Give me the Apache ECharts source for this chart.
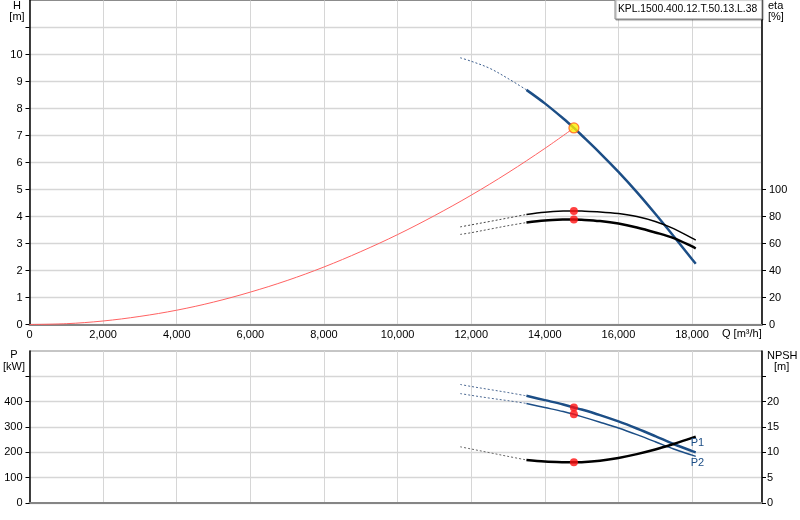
<!DOCTYPE html>
<html>
<head>
<meta charset="utf-8">
<script src="https://cdn.jsdelivr.net/npm/echarts@6/dist/echarts.min.js"></script>
<style>html,body{margin:0;padding:0;background:#fff}#c{width:800px;height:520px}</style>
</head>
<body>
<div id="c"></div>
<script>
// ---- data ----
const qDash  = [11700, 12000, 12500, 13000, 13500];
const qSolid = [13500, 14000, 14500, 14790, 15000, 15500, 16000, 16500, 17000, 17500, 18000, 18100];

const hDash  = [9.88, 9.75, 9.49, 9.11, 8.69];
const hSolid = [8.69, 8.19, 7.63, 7.28, 7.01, 6.35, 5.65, 4.90, 4.10, 3.27, 2.42, 2.25];

const etaUpDash  = [72.3, 73.8, 76.3, 78.9, 81.5];
const etaUpSolid = [81.5, 83.2, 84.0, 84.1, 84.0, 83.4, 82.2, 80.0, 76.3, 71.0, 64.0, 62.5];
const etaLoDash  = [66.7, 68.0, 70.6, 73.2, 75.5];
const etaLoSolid = [75.5, 77.0, 77.7, 77.8, 77.6, 76.6, 74.8, 71.9, 68.2, 64.0, 57.8, 56.3];

const p1Dash  = [468, 460, 448, 436, 423];
const p1Solid = [423, 406, 389, 377, 369, 347, 322, 294, 264, 233, 205, 200];
const p2Dash  = [432, 425, 414, 404, 393];
const p2Solid = [393, 377, 361, 350, 341, 319, 296, 270, 242, 213, 189, 184];

const npshDash  = [11.1, 10.66, 9.93, 9.2, 8.5];
const npshSolid = [8.5, 8.2, 8.05, 8.02, 8.05, 8.35, 8.9, 9.65, 10.55, 11.65, 12.85, 13.1];

const qSys = [0, 1000, 2000, 3000, 4000, 5000, 6000, 7000, 8000, 9000, 10000, 11000, 12000, 13000, 14000, 14790];
const hSys = [0, 0.03, 0.13, 0.3, 0.53, 0.83, 1.2, 1.63, 2.13, 2.7, 3.33, 4.03, 4.79, 5.62, 6.52, 7.28];

const dutyQ = 14790;
const dutyH = 7.28, dutyEtaUp = 84.1, dutyEtaLo = 77.8, dutyP1 = 377, dutyP2 = 350, dutyNpsh = 8.02;

const hTicks = [0,1,2,3,4,5,6,7,8,9,10,11];
const hLabels = [0,1,2,3,4,5,6,7,8,9,10];
const etaTicks = [0,20,40,60,80,100];
const pTicks = [0,100,200,300,400,500];
const pLabels = [0,100,200,300,400];
const npshTicks = [0,5,10,15,20,25];
const npshLabels = [0,5,10,15,20];

const pumpName = 'KPL.1500.400.12.T.50.13.L.38';
// ---- chart ----
const pairs = (qs, vs) => qs.map((q, i) => [q, vs[i]]);
const FONT = 'Liberation Sans, Arial, sans-serif';
const BLUE = '#1c4e86';
const GRID = '#d6d6d6';

const chart = echarts.init(document.getElementById('c'), null, {renderer: 'canvas'});

function xAx(gi, showLabels) {
  return {
    gridIndex: gi, type: 'value', min: 0, max: 19900, interval: 2000,
    axisLine: {show: true, onZero: false, lineStyle: {color: '#858585', width: 2}},
    axisTick: {show: false},
    axisLabel: {show: showLabels, showMaxLabel: false, color: '#000', fontFamily: FONT, fontSize: 11, margin: 5,
      formatter: v => v.toLocaleString('en-US')},
    splitLine: {show: true, lineStyle: {color: GRID, width: 1}}
  };
}
function yAx(gi, pos, max, interval, ticks, labels, split, margin) {
  return {
    gridIndex: gi, type: 'value', position: pos, min: 0, max: max, interval: interval,
    axisLine: {show: true, onZero: false, lineStyle: {color: '#000', width: 1.5}},
    axisTick: {show: true, length: 4, customValues: ticks, lineStyle: {color: '#000'}},
    axisLabel: {customValues: labels, color: '#000', fontFamily: FONT, fontSize: 11, margin: margin},
    splitLine: {show: split, lineStyle: {color: GRID, width: 1.3}}
  };
}
function line(xi, yi, qs, vs, color, width, dashed, z) {
  return {
    type: 'line', xAxisIndex: xi, yAxisIndex: yi, data: pairs(qs, vs),
    symbol: 'none', smooth: 0.35, silent: true, z: z || 3,
    lineStyle: {color: color, width: width, type: dashed ? [2, 2] : 'solid'}
  };
}
function dot(xi, yi, q, v) {
  return {
    type: 'scatter', xAxisIndex: xi, yAxisIndex: yi, data: [[q, v]], symbolSize: 8, z: 10,
    itemStyle: {color: '#ff1010'}
  };
}

const p1Series = line(1, 2, qSolid, p1Solid, BLUE, 2.5, false);
p1Series.endLabel = {show: true, formatter: 'P1', offset: [-13, -9], color: BLUE, fontFamily: FONT, fontSize: 11};
const p2Series = line(1, 2, qSolid, p2Solid, BLUE, 1.5, false);
p2Series.endLabel = {show: true, formatter: 'P2', offset: [-13, 7], color: BLUE, fontFamily: FONT, fontSize: 11};

const txt = (x, y, s, align, size) => ({type: 'text', x: x, y: y, z: 100,
  style: {text: s, fill: '#000', font: (size || 11) + 'px ' + FONT, textAlign: align || 'left', textVerticalAlign: 'middle'}});

chart.setOption({
  animation: false,
  backgroundColor: '#fff',
  grid: [
    {left: 29.5, right: 38, top: 0.5, height: 324, show: true, borderColor: '#8c8c8c', borderWidth: 1, backgroundColor: 'transparent'},
    {left: 29.5, right: 38, top: 351, height: 152, show: true, borderColor: '#8c8c8c', borderWidth: 1, backgroundColor: 'transparent'}
  ],
  xAxis: [xAx(0, true), xAx(1, false)],
  yAxis: [
    yAx(0, 'left', 12, 1, hTicks, hLabels, true, 7),
    yAx(0, 'right', 240, 20, etaTicks, etaTicks, false, 7),
    yAx(1, 'left', 600, 100, pTicks, pLabels, true, 7),
    yAx(1, 'right', 30, 5, npshTicks, npshLabels, false, 5)
  ],
  series: [
    line(0, 0, qSys, hSys, '#ff6262', 1, false, 2),
    line(0, 0, qDash, hDash, '#3d5f8f', 1, true),
    line(0, 0, qSolid, hSolid, BLUE, 2.5, false),
    line(0, 1, qDash, etaUpDash, '#444', 1, true),
    line(0, 1, qSolid, etaUpSolid, '#000', 1.5, false),
    line(0, 1, qDash, etaLoDash, '#555', 1, true),
    line(0, 1, qSolid, etaLoSolid, '#000', 2.5, false),
    {type: 'scatter', xAxisIndex: 0, yAxisIndex: 0, data: [[dutyQ, dutyH]], symbolSize: 10, z: 11,
      itemStyle: {color: '#ffee00', borderColor: '#ff5a1a', borderWidth: 1.2}},
    dot(0, 1, dutyQ, dutyEtaUp),
    dot(0, 1, dutyQ, dutyEtaLo),
    line(1, 2, qDash, p1Dash, '#4d6a94', 1, true),
    p1Series,
    line(1, 2, qDash, p2Dash, '#4d6a94', 1, true),
    p2Series,
    line(1, 3, qDash, npshDash, '#666', 1, true),
    line(1, 3, qSolid, npshSolid, '#000', 2.5, false),
    dot(1, 2, dutyQ, dutyP1),
    dot(1, 2, dutyQ, dutyP2),
    dot(1, 3, dutyQ, dutyNpsh)
  ],
  graphic: [
    {type: 'rect', x: 615, y: -1, z: 99, shape: {width: 147, height: 20},
      style: {fill: '#fff', stroke: '#8c8c8c', lineWidth: 1, shadowColor: 'rgba(0,0,0,0.35)', shadowOffsetX: 1, shadowOffsetY: 1, shadowBlur: 1}},
    txt(618, 9, pumpName, 'left', 10.3),
    txt(17, 6, 'H', 'center'),
    txt(17, 17, '[m]', 'center'),
    txt(768, 6, 'eta'),
    txt(768, 17, '[%]'),
    txt(14, 355, 'P', 'center'),
    txt(14, 367, '[kW]', 'center'),
    txt(767, 356, 'NPSH'),
    txt(774, 367, '[m]'),
    txt(722, 334, 'Q [m³/h]')
  ]
});
</script>
</body>
</html>
